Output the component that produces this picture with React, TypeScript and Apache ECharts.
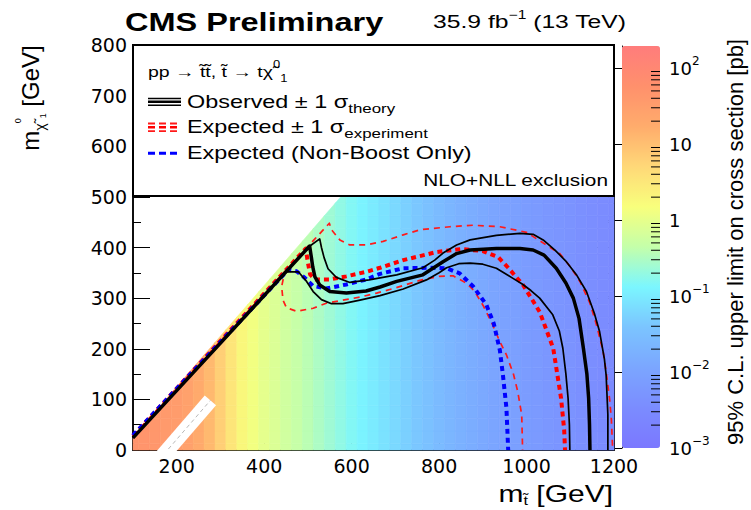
import React, { useEffect, useRef } from "react";
import * as echarts from "echarts";

// ---------- data ----------
const stopMassColumns = [100, 125, 150, 175, 200, 225, 250, 275, 300, 325, 350, 375, 400, 425, 450, 475, 500, 525, 550, 575, 600, 625, 650, 675, 700, 725, 750, 775, 800, 825, 850, 875, 900, 925, 950, 975, 1000, 1025, 1050, 1075, 1100, 1125, 1150, 1175, 1200];
// 95% CL upper limit on cross section [pb], per stop-mass column
const limitByColumn = [50, 46, 42, 38, 34, 27, 19, 12, 6.5, 3.4, 1.9, 1.3, 0.95, 0.75, 0.58, 0.47, 0.38, 0.3, 0.24, 0.19, 0.15, 0.12, 0.1, 0.08, 0.065, 0.052, 0.042, 0.034, 0.027, 0.022, 0.018, 0.015, 0.013, 0.011, 0.0095, 0.0085, 0.0072, 0.0064, 0.0057, 0.0051, 0.0046, 0.0041, 0.0037, 0.0033, 0.003];
const lspMassRows = [0, 25, 50, 75, 100, 125, 150, 175, 200, 225, 250, 275, 300, 325, 350, 375, 400, 425, 450, 475, 500, 525, 550, 575, 600, 625, 650, 675, 700, 725, 750, 775, 800];
const kinematicGap = 75; // mLSP <= mstop - 75 is filled
const cellHalf = 12.5;

const topCorridor = [[160, -19], [277, 98]];

const observed = [[100, 24], [300, 211], [504, 403], [508, 380], [511, 362], [516, 342], [527, 326], [550, 313], [588, 310], [633, 314], [665, 322], [703, 333], [763, 346], [809, 372], [840, 388], [871, 395], [931, 398], [985, 398], [1015, 395], [1040, 385], [1068, 359], [1090, 330], [1107, 300], [1120, 260], [1130, 201], [1138, 150], [1142, 102], [1144, 50], [1145, 0]];
const observedUp = [[100, 24], [503, 402], [527, 417], [531, 400], [537, 380], [546, 358], [565, 341], [596, 331], [640, 336], [665, 340], [703, 346], [763, 360], [790, 375], [809, 389], [840, 405], [871, 415], [931, 424], [985, 428], [1015, 426], [1038, 415], [1065, 395], [1091, 372], [1115, 345], [1137, 313], [1155, 270], [1167, 234], [1178, 180], [1182, 148], [1186, 69], [1186, 0]];
const observedDown = [[100, 24], [451, 352], [478, 352], [497, 333], [512, 313], [531, 297], [554, 289], [580, 289], [619, 296], [665, 305], [718, 318], [771, 336], [800, 350], [817, 360], [845, 368], [871, 369], [900, 367], [931, 359], [969, 339], [990, 328], [1010, 315], [1030, 300], [1060, 267], [1075, 235], [1083, 201], [1090, 150], [1095, 102], [1098, 50], [1099, 0]];
const expected = [[100, 28], [495, 398], [500, 370], [505, 347], [516, 337], [550, 337], [588, 343], [634, 352], [665, 360], [718, 375], [794, 391], [850, 397], [900, 393], [935, 381], [958, 360], [992, 326], [1030, 273], [1061, 201], [1079, 102], [1086, 40], [1088, 0]];
const expectedUp = [[100, 28], [515, 416], [549, 448], [554, 435], [573, 415], [596, 405], [634, 405], [672, 412], [718, 425], [756, 435], [825, 441], [878, 444], [939, 441], [1000, 430], [1045, 405], [1076, 388], [1100, 362], [1122, 333], [1145, 290], [1160, 247], [1175, 195], [1182, 155], [1190, 100], [1194, 60], [1197, 0]];
const expectedDown = [[100, 28], [447, 352], [440, 323], [443, 296], [451, 281], [474, 274], [512, 280], [542, 290], [580, 296], [619, 302], [657, 310], [700, 320], [756, 335], [800, 343], [832, 344], [862, 330], [880, 315], [901, 285], [920, 252], [939, 214], [954, 188], [970, 150], [980, 115], [989, 69], [991, 0]];
const nonBoost = [[100, 29], [455, 356], [474, 353], [493, 340], [512, 324], [542, 319], [588, 327], [634, 337], [665, 348], [718, 359], [779, 360], [817, 359], [847, 349], [878, 323], [908, 287], [925, 250], [939, 197], [946, 148], [954, 83], [958, 0]];

const colorbarMinorTicks = [0.002, 0.003, 0.004, 0.005, 0.006, 0.007, 0.008, 0.009, 0.02, 0.03, 0.04, 0.05, 0.06, 0.07, 0.08, 0.09, 0.2, 0.3, 0.4, 0.5, 0.6, 0.7, 0.8, 0.9, 2, 3, 4, 5, 6, 7, 8, 9, 20, 30, 40, 50, 60, 70, 80, 90];
const colorbarMin = 0.001;
const colorbarMax = 195;

const palette = ["#7b78ff", "#7b8cff", "#7ba6ff", "#7bc4ff", "#7bf6ff", "#c4ffaa", "#f8ff7c", "#ffd878", "#ffac6c", "#ff906c", "#ff7c7c"];

// ---------- helpers ----------
type P = number[];
function clipHalf(poly: P[], f: (p: P) => number): P[] {
  const out: P[] = [];
  for (let i = 0; i < poly.length; i++) {
    const a = poly[i];
    const b = poly[(i + 1) % poly.length];
    const fa = f(a);
    const fb = f(b);
    if (fa >= 0) out.push(a);
    if ((fa >= 0) !== (fb >= 0)) {
      const t = fa / (fa - fb);
      out.push([a[0] + t * (b[0] - a[0]), a[1] + t * (b[1] - a[1])]);
    }
  }
  return out;
}

const heatData: number[][] = [];
stopMassColumns.forEach((ms, i) => {
  lspMassRows.forEach((ml) => {
    if (ml - cellHalf < ms - kinematicGap) {
      heatData.push([ms, ml, limitByColumn[i], Math.log10(limitByColumn[i])]);
    }
  });
});

const SANS = "Liberation Sans, Arial, Helvetica, sans-serif";
const AX = "DejaVu Sans, sans-serif";

function lineSeries(data: number[][], color: string, width: number, dash: any, z: number) {
  return {
    type: "line",
    xAxisIndex: 0,
    yAxisIndex: 0,
    data,
    showSymbol: false,
    symbol: "none",
    clip: true,
    z,
    lineStyle: { color, width, type: dash, cap: "butt", join: "round" },
  };
}

export default function App() {
  const ref = useRef<HTMLDivElement>(null);
  useEffect(() => {
    if (!ref.current) return;
    const chart = echarts.init(ref.current, undefined, { renderer: "svg" });
    const supRich = {
      b: { fontSize: 18, fontFamily: AX, color: "#000", lineHeight: 26 },
      s: { fontSize: 12, fontFamily: AX, color: "#000", verticalAlign: "top", lineHeight: 12 },
    };
    const option: any = {
      animation: false,
      backgroundColor: "#fff",
      textStyle: { fontFamily: SANS },
      grid: [
        { left: 133, top: 45, width: 481, height: 405, show: true, borderColor: "#000", borderWidth: 1.5, backgroundColor: "transparent" },
        { left: 622, top: 46, width: 38, height: 402, show: false },
      ],
      xAxis: [
        {
          gridIndex: 0, type: "value", min: 100, max: 1200, position: "bottom",
          axisLine: { show: true, lineStyle: { color: "#000", width: 1.5 } },
          axisTick: { show: true, inside: true, length: 10, lineStyle: { color: "#000", width: 1 } },
          axisLabel: { show: true, fontFamily: AX, fontSize: 19, color: "#000", margin: 6, showMinLabel: false, formatter: (v: number) => String(v) },
          splitLine: { show: false },
        },
        {
          gridIndex: 0, type: "value", min: 100, max: 1200, interval: 50, position: "bottom",
          axisLine: { show: false },
          axisTick: { show: true, inside: true, length: 5, lineStyle: { color: "#000", width: 1 } },
          axisLabel: { show: false },
          splitLine: { show: false },
        },
        { gridIndex: 1, type: "value", min: 0, max: 1, show: false },
      ],
      yAxis: [
        {
          gridIndex: 0, type: "value", min: 0, max: 800, interval: 100, position: "left",
          axisLine: { show: true, lineStyle: { color: "#000", width: 1.5 } },
          axisTick: { show: true, inside: true, length: 17, lineStyle: { color: "#000", width: 1 } },
          minorTick: { show: true, splitNumber: 2, length: 8, lineStyle: { color: "#000", width: 1 } },
          axisLabel: { fontFamily: AX, fontSize: 19, color: "#000", margin: 6, formatter: (v: number) => String(v) },
          splitLine: { show: false },
        },
        {
          gridIndex: 0, type: "value", min: 0, max: 800, interval: 100, position: "right",
          axisLine: { show: true, lineStyle: { color: "#000", width: 1.5 } },
          axisTick: { show: true, inside: true, length: 17, lineStyle: { color: "#000", width: 1 } },
          minorTick: { show: true, splitNumber: 2, length: 8, lineStyle: { color: "#000", width: 1 } },
          axisLabel: { show: false },
          splitLine: { show: false },
        },
        {
          gridIndex: 1, type: "value", min: Math.log10(colorbarMin), max: Math.log10(colorbarMax), interval: 1, position: "right",
          axisLine: { show: true, lineStyle: { color: "#000", width: 1 } },
          axisTick: { show: true, inside: true, length: 17, lineStyle: { color: "#000", width: 1 } },
          axisLabel: {
            show: true, margin: 9, showMaxLabel: false,
            formatter: (v: number) => {
              const n = Math.round(v);
              if (Math.abs(v - n) > 1e-6) return "";
              if (n === 0) return "{b|1}";
              if (n === 1) return "{b|10}";
              return "{b|10}{s|" + (n < 0 ? "\u2212" : "") + Math.abs(n) + "}";
            },
            rich: supRich,
          },
          splitLine: { show: false },
        },
      ],
      visualMap: {
        type: "continuous",
        seriesIndex: 0,
        dimension: 3,
        min: Math.log10(colorbarMin),
        max: Math.log10(colorbarMax),
        calculable: false,
        orient: "vertical",
        left: 622,
        top: 46,
        padding: 0,
        itemWidth: 38,
        itemHeight: 402,
        text: null,
        showLabel: false,
        inRange: { color: palette },
      },
      series: [
        {
          type: "custom",
          xAxisIndex: 0,
          yAxisIndex: 0,
          data: heatData,
          z: 1,
          encode: { x: 0, y: 1 },
          renderItem: (params: any, api: any) => {
            const x = api.value(0);
            const y = api.value(1);
            let poly: P[] = [[x - cellHalf, y - cellHalf], [x + cellHalf, y - cellHalf], [x + cellHalf, y + cellHalf], [x - cellHalf, y + cellHalf]];
            poly = clipHalf(poly, (p) => p[0] - kinematicGap - p[1]);
            poly = clipHalf(poly, (p) => p[0] - 100);
            poly = clipHalf(poly, (p) => 1200 - p[0]);
            poly = clipHalf(poly, (p) => p[1]);
            poly = clipHalf(poly, (p) => 800 - p[1]);
            if (poly.length < 3) return null;
            const c = api.visual("color");
            return {
              type: "polygon",
              shape: { points: poly.map((p) => api.coord(p)) },
              style: { fill: c, stroke: c, lineWidth: 0.6 },
            };
          },
        },
        lineSeries(topCorridor, "#ffffff", 15, "solid", 3),
        lineSeries(topCorridor, "#b8b8b8", 1, [4, 3], 3),
        lineSeries(expectedUp, "#ff1a1a", 1.7, [6, 5], 4),
        lineSeries(expectedDown, "#ff1a1a", 1.7, [6, 5], 4),
        lineSeries(expected, "#ff0000", 4, [5, 4], 4),
        lineSeries(nonBoost, "#0000ff", 4, [5, 4], 4),
        lineSeries(observedUp, "#000", 1.7, "solid", 5),
        lineSeries(observedDown, "#000", 1.7, "solid", 5),
        lineSeries(observed, "#000", 3.5, "solid", 5),
        {
          type: "custom",
          xAxisIndex: 2,
          yAxisIndex: 2,
          z: 6,
          data: colorbarMinorTicks.map((v) => [1, Math.log10(v)]),
          renderItem: (params: any, api: any) => {
            const pt = api.coord([1, api.value(1)]);
            return { type: "line", shape: { x1: pt[0] - 9, y1: pt[1], x2: pt[0], y2: pt[1] }, style: { stroke: "#000", lineWidth: 1 } };
          },
        },
      ],
      graphic: [
        // titles
        { type: "text", x: 125, y: 22, scaleX: 1.3, z: 100, style: { text: "CMS Preliminary", font: "bold 25px " + SANS, fill: "#000", align: "left", verticalAlign: "middle" } },
        {
          type: "text", x: 433, y: 22, scaleX: 1.3, z: 100,
          style: {
            text: "{a|35.9 fb}{s|\u22121}{a| (13 TeV)}", align: "left", verticalAlign: "middle",
            rich: {
              a: { fontSize: 19, fontFamily: SANS, fill: "#000", color: "#000", lineHeight: 26 },
              s: { fontSize: 12, fontFamily: SANS, fill: "#000", color: "#000", verticalAlign: "top", lineHeight: 12 },
            },
          },
        },
        // axis titles
        {
          type: "text", x: 30, y: 98, rotation: Math.PI / 2, z: 100,
          style: {
            text: "{m|m}{c|\u03c7\u0303}{z|0}{o|1}{m| [GeV]}", align: "center", verticalAlign: "middle",
            rich: {
              m: { fontSize: 24, fontFamily: SANS, fill: "#000", color: "#000", lineHeight: 34 },
              c: { fontSize: 14, fontFamily: SANS, fill: "#000", color: "#000", verticalAlign: "bottom", lineHeight: 16 },
              z: { fontSize: 9, fontFamily: SANS, fill: "#000", color: "#000", verticalAlign: "top", lineHeight: 22 },
              o: { fontSize: 9, fontFamily: SANS, fill: "#000", color: "#000", verticalAlign: "bottom", lineHeight: 10 },
            },
          },
        },
        {
          type: "text", x: 613, y: 494, scaleX: 1.25, z: 100,
          style: {
            text: "{m|m}{t|t\u0303}{m| [GeV]}", align: "right", verticalAlign: "middle",
            rich: {
              m: { fontSize: 24, fontFamily: SANS, fill: "#000", color: "#000", lineHeight: 26 },
              t: { fontSize: 13, fontFamily: SANS, fill: "#000", color: "#000", verticalAlign: "bottom", lineHeight: 13 },
            },
          },
        },
        { type: "text", x: 735, y: 242, rotation: Math.PI / 2, z: 100, style: { text: "95% C.L. upper limit on cross section [pb]", font: "22px " + SANS, fill: "#000", align: "center", verticalAlign: "middle" } },
        // legend box
        { type: "rect", z: 90, shape: { x: 133, y: 45, width: 481, height: 151 }, style: { fill: "#fff", stroke: "#000", lineWidth: 2 } },
        {
          type: "text", x: 148, y: 72, scaleX: 1.3, z: 100,
          style: {
            text: "{a|pp \u2192 t\u0303t\u0303, t\u0303 \u2192 t\u03c7\u0303}{z|0}{o|1}", align: "left", verticalAlign: "middle",
            rich: {
              a: { fontSize: 15, fontFamily: SANS, fill: "#000", color: "#000", lineHeight: 24 },
              z: { fontSize: 10, fontFamily: SANS, fill: "#000", color: "#000", verticalAlign: "top", lineHeight: 12 },
              o: { fontSize: 10, fontFamily: SANS, fill: "#000", color: "#000", verticalAlign: "bottom", lineHeight: 10 },
            },
          },
        },
        { type: "line", z: 100, shape: { x1: 148, y1: 98.5, x2: 181, y2: 98.5 }, style: { stroke: "#000", lineWidth: 1.6 } },
        { type: "line", z: 100, shape: { x1: 148, y1: 101.8, x2: 181, y2: 101.8 }, style: { stroke: "#000", lineWidth: 2.4 } },
        { type: "line", z: 100, shape: { x1: 148, y1: 105.2, x2: 181, y2: 105.2 }, style: { stroke: "#000", lineWidth: 1.6 } },
        { type: "line", z: 100, shape: { x1: 148, y1: 123.5, x2: 181, y2: 123.5 }, style: { stroke: "#ff1a1a", lineWidth: 1.8, lineDash: [7, 4] } },
        { type: "line", z: 100, shape: { x1: 148, y1: 127.3, x2: 181, y2: 127.3 }, style: { stroke: "#ff0000", lineWidth: 2.4, lineDash: [7, 4] } },
        { type: "line", z: 100, shape: { x1: 148, y1: 131.1, x2: 181, y2: 131.1 }, style: { stroke: "#ff1a1a", lineWidth: 1.8, lineDash: [7, 4] } },
        { type: "line", z: 100, shape: { x1: 148, y1: 153.3, x2: 181, y2: 153.3 }, style: { stroke: "#0000ff", lineWidth: 3, lineDash: [7, 4] } },
        {
          type: "text", x: 187, y: 102, scaleX: 1.3, z: 100,
          style: {
            text: "{a|Observed \u00b1 1 \u03c3}{s|theory}", align: "left", verticalAlign: "middle",
            rich: {
              a: { fontSize: 18, fontFamily: SANS, fill: "#000", color: "#000", lineHeight: 26 },
              s: { fontSize: 13, fontFamily: SANS, fill: "#000", color: "#000", verticalAlign: "bottom", lineHeight: 14 },
            },
          },
        },
        {
          type: "text", x: 187, y: 127, scaleX: 1.3, z: 100,
          style: {
            text: "{a|Expected \u00b1 1 \u03c3}{s|experiment}", align: "left", verticalAlign: "middle",
            rich: {
              a: { fontSize: 18, fontFamily: SANS, fill: "#000", color: "#000", lineHeight: 26 },
              s: { fontSize: 13, fontFamily: SANS, fill: "#000", color: "#000", verticalAlign: "bottom", lineHeight: 14 },
            },
          },
        },
        { type: "text", x: 187, y: 153, scaleX: 1.3, z: 100, style: { text: "Expected (Non-Boost Only)", font: "18px " + SANS, fill: "#000", align: "left", verticalAlign: "middle" } },
        { type: "text", x: 608, y: 180, scaleX: 1.3, z: 100, style: { text: "NLO+NLL exclusion", font: "16px " + SANS, fill: "#000", align: "right", verticalAlign: "middle" } },
      ],
    };
    chart.setOption(option);
    return () => chart.dispose();
  }, []);
  return <div ref={ref} style={{ width: 751, height: 510, position: "absolute", left: 0, top: 0 }} />;
}
